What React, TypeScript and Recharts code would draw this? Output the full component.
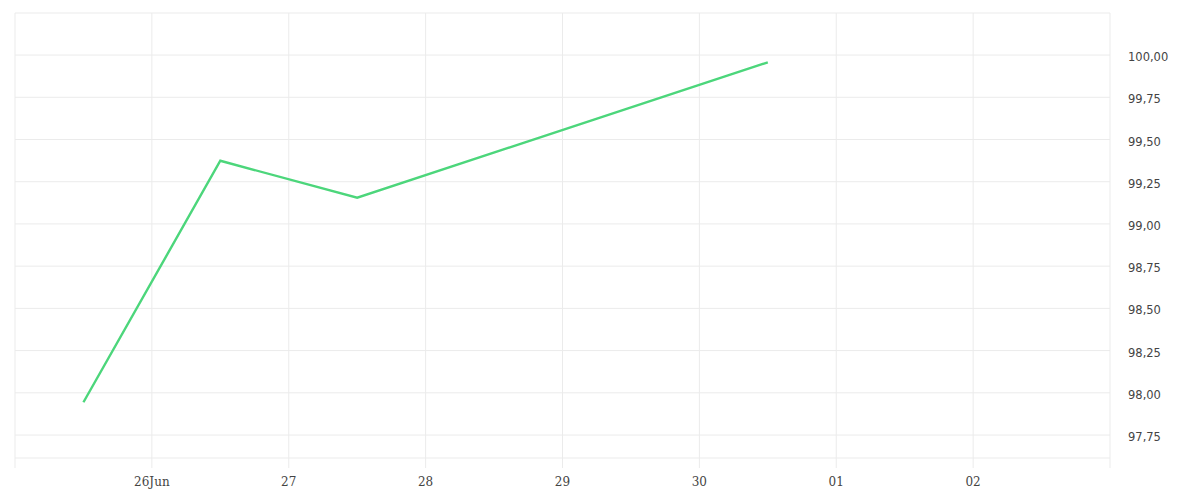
import React from 'react';
import { LineChart, Line, XAxis, YAxis, CartesianGrid } from 'recharts';

// x = days since 25 Jun 00:00
const pointX = [0.5, 1.5, 2.5, 5.5];
const pointValues = [97.944, 99.374, 99.155, 99.957];
const xTicks = [0, 1, 2, 3, 4, 5, 6, 7, 8];
const xTickLabels = ['', '26Jun', '27', '28', '29', '30', '01', '02', ''];
const Y_MIN = 97.614;
const Y_MAX = 100.249;
const yTicks = [97.614, 97.75, 98.0, 98.25, 98.5, 98.75, 99.0, 99.25, 99.5, 99.75, 100.0, 100.249];

const data = pointX.map((x, i) => ({ x, value: pointValues[i] }));

const isQuarter = (v: number) => Math.abs(v * 4 - Math.round(v * 4)) < 1e-6;
const fmtY = (v: number) => (isQuarter(v) ? v.toFixed(2).replace('.', ',') : '');

const YTick = (props: any) => {
  const { x, y, payload } = props;
  const label = fmtY(payload.value);
  if (!label) return null;
  return (
    <text x={x} y={y + 2} dy="0.355em" textAnchor="start" fill="#444" fontSize={11.5} fontFamily="DejaVu Sans">
      {label}
    </text>
  );
};

const XTick = (props: any) => {
  const { x, y, payload } = props;
  const idx = xTicks.indexOf(payload.value);
  const label = idx >= 0 ? xTickLabels[idx] : '';
  if (!label) return null;
  return (
    <text x={x} y={y} dy="0.71em" textAnchor="middle" fill="#444" fontSize={12} fontFamily="DejaVu Serif">
      {label}
    </text>
  );
};

export default function App() {
  return (
    <div style={{ width: 1184, height: 484 }}>
      <LineChart width={1184} height={484} data={data} margin={{ top: 5, left: 7, right: 0, bottom: 0 }}>
        <CartesianGrid stroke="#ebebeb" strokeWidth={1} />
        <XAxis
          dataKey="x"
          type="number"
          domain={[0, 8]}
          ticks={xTicks}
          interval={0}
          axisLine={false}
          tickLine={{ stroke: '#ebebeb' }}
          tickSize={10}
          tickMargin={9}
          height={34}
          tick={<XTick />}
        />
        <YAxis
          orientation="right"
          type="number"
          domain={[Y_MIN, Y_MAX]}
          ticks={yTicks}
          interval={0}
          allowDataOverflow
          axisLine={false}
          tickLine={false}
          tickSize={0}
          tickMargin={18}
          width={82}
          tick={<YTick />}
        />
        <Line
          type="linear"
          dataKey="value"
          stroke="#4cd67b"
          strokeWidth={2.4}
          dot={false}
          activeDot={false}
          isAnimationActive={false}
        />
      </LineChart>
    </div>
  );
}
